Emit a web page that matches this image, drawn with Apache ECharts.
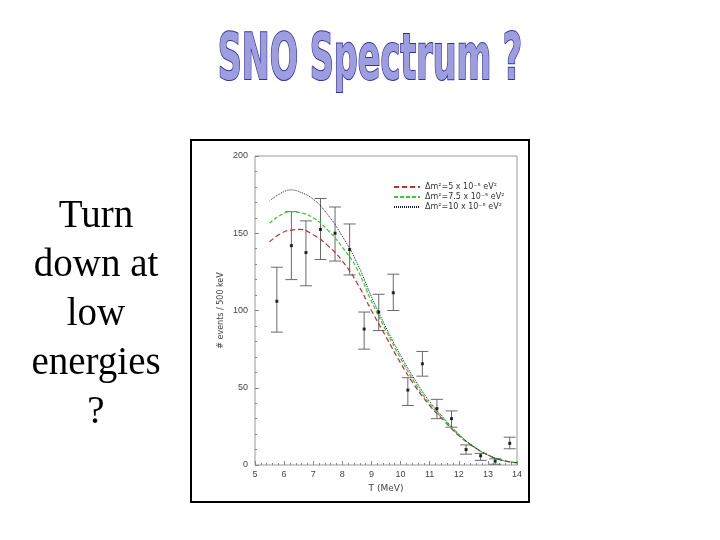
<!DOCTYPE html>
<html>
<head>
<meta charset="utf-8">
<script src="https://cdn.jsdelivr.net/npm/echarts@6/dist/echarts.min.js"></script>
<style>
html,body{margin:0;padding:0;background:#fff}
#main{width:720px;height:540px}
</style>
</head>
<body>
<div id="main"></div>
<script>
// measured points: bin centre, value, lower and upper end of error bar
var binT = [5.75,6.25,6.75,7.25,7.75,8.25,8.75,9.25,9.75,10.25,10.75,11.25,11.75,12.25,12.75,13.25,13.75]
var counts = [106,142,137.5,152.5,150,139.5,88,99,111.5,48.5,65.5,36.5,30,10,6,2.5,14]
var errLow = [86,120,116,133,132,123,75,87,100,38.5,57.5,30,24.5,7,3,0.5,10.5]
var errHigh = [128,164,158,172.5,167,156,99,110.5,123.5,56.5,73.5,42.5,35,13,7.5,4,18]

// model curves
var curveT = [5.5,6,6.25,6.5,7,7.5,8,8.5,9,9.5,10,10.5,11,11.5,12,12.5,13,13.5,14]
var dm5 = [144.5,151,152,152.5,149,142,132,118,100,83,66,51,38.5,28.5,19,12,6.5,3,1.5]
var dm75 = [156.5,163,164,163.5,160,152,141,127,106,87,69,53,39.5,29,19.5,12,6.5,3,1.5]
var dm10 = [171,177,178,177,172,162,148,131,109,89,71,55,41,30,20,12,6.5,3,1.5]
var curveNames = ['Δm²=5 x 10⁻⁵ eV²','Δm²=7.5 x 10⁻⁵ eV²','Δm²=10 x 10⁻⁵ eV²']

function pairs(xs, ys){
  var out=[]
  for(var i=0;i<xs.length;i++) out.push([xs[i],ys[i]])
  return out
}
var errData=[]
for(var i=0;i<binT.length;i++) errData.push([binT[i],errLow[i],errHigh[i]])

var chart = echarts.init(document.getElementById('main'))
var option = {
  backgroundColor:'#fff',
  animation:false,
  grid:{left:255,right:203,top:156,bottom:75,show:true,borderColor:'#999',borderWidth:1},
  legend:{
    orient:'vertical',left:388,top:178,itemWidth:26,itemHeight:8,itemGap:2,
    data:curveNames,
    itemStyle:{opacity:0},
    textStyle:{fontSize:8,color:'#333',fontFamily:'DejaVu Sans'}
  },
  xAxis:{
    type:'value',min:5,max:14,interval:1,
    name:'T (MeV)',nameLocation:'middle',nameGap:17,
    nameTextStyle:{fontSize:9,color:'#444',fontFamily:'DejaVu Sans'},
    axisLine:{show:false},
    axisTick:{inside:true,length:4,lineStyle:{color:'#888'}},
    minorTick:{show:true,splitNumber:5,length:2,lineStyle:{color:'#888'}},
    axisLabel:{fontSize:9,color:'#444',margin:5},
    splitLine:{show:false}
  },
  yAxis:{
    type:'value',min:0,max:200,interval:50,
    name:'# events / 500 keV',nameLocation:'middle',nameGap:30,nameRotate:90,
    nameTextStyle:{fontSize:8,color:'#444',fontFamily:'DejaVu Sans'},
    axisLine:{show:false},
    axisTick:{inside:true,length:4,lineStyle:{color:'#888'}},
    minorTick:{show:true,splitNumber:5,length:2,lineStyle:{color:'#888'}},
    axisLabel:{fontSize:9,color:'#444',margin:7},
    splitLine:{show:false}
  },
  series:[
    {name:curveNames[0],type:'line',smooth:true,symbol:'none',data:pairs(curveT,dm5),
      itemStyle:{color:'#b83030'},lineStyle:{color:'#b83030',width:1.2,type:[5,3]},z:3},
    {name:curveNames[1],type:'line',smooth:true,symbol:'none',data:pairs(curveT,dm75),
      itemStyle:{color:'#33cc33'},lineStyle:{color:'#33cc33',width:1.2,type:[4,2]},z:3},
    {name:curveNames[2],type:'line',smooth:true,symbol:'none',data:pairs(curveT,dm10),
      itemStyle:{color:'#1a1a3a'},lineStyle:{color:'#1a1a3a',width:1,type:[1,1]},z:3},
    {type:'custom',data:errData,z:2,
      renderItem:function(params,api){
        var lo=api.coord([api.value(0),api.value(1)])
        var hi=api.coord([api.value(0),api.value(2)])
        var w=6
        var st={stroke:'#6a6a6a',lineWidth:1}
        return {type:'group',children:[
          {type:'line',shape:{x1:lo[0],y1:lo[1],x2:hi[0],y2:hi[1]},style:st},
          {type:'line',shape:{x1:lo[0]-w,y1:lo[1],x2:lo[0]+w,y2:lo[1]},style:st},
          {type:'line',shape:{x1:hi[0]-w,y1:hi[1],x2:hi[0]+w,y2:hi[1]},style:st}
        ]}
      }},
    {type:'scatter',data:pairs(binT,counts),symbol:'rect',symbolSize:3,
      itemStyle:{color:'#000'},z:4}
  ],
  graphic:[
    {type:'rect',shape:{x:191,y:140,width:338,height:362},
      style:{fill:'none',stroke:'#000',lineWidth:2},silent:true},
    {type:'text',x:370,y:62,scaleX:0.58,
      style:{text:'SNO Spectrum ?',font:'bold 64px "DejaVu Sans Condensed","DejaVu Sans",sans-serif',
        fill:'#9d9de0',stroke:'#33339a',lineWidth:2,align:'center',verticalAlign:'middle'}},
    {type:'text',x:96,y:192,
      style:{text:'Turn\ndown at\nlow\nenergies\n?',font:'39px "Liberation Serif","Times New Roman",serif',
        fill:'#000',align:'center',verticalAlign:'top',lineHeight:49}}
  ]
}
chart.setOption(option)
</script>
</body>
</html>
